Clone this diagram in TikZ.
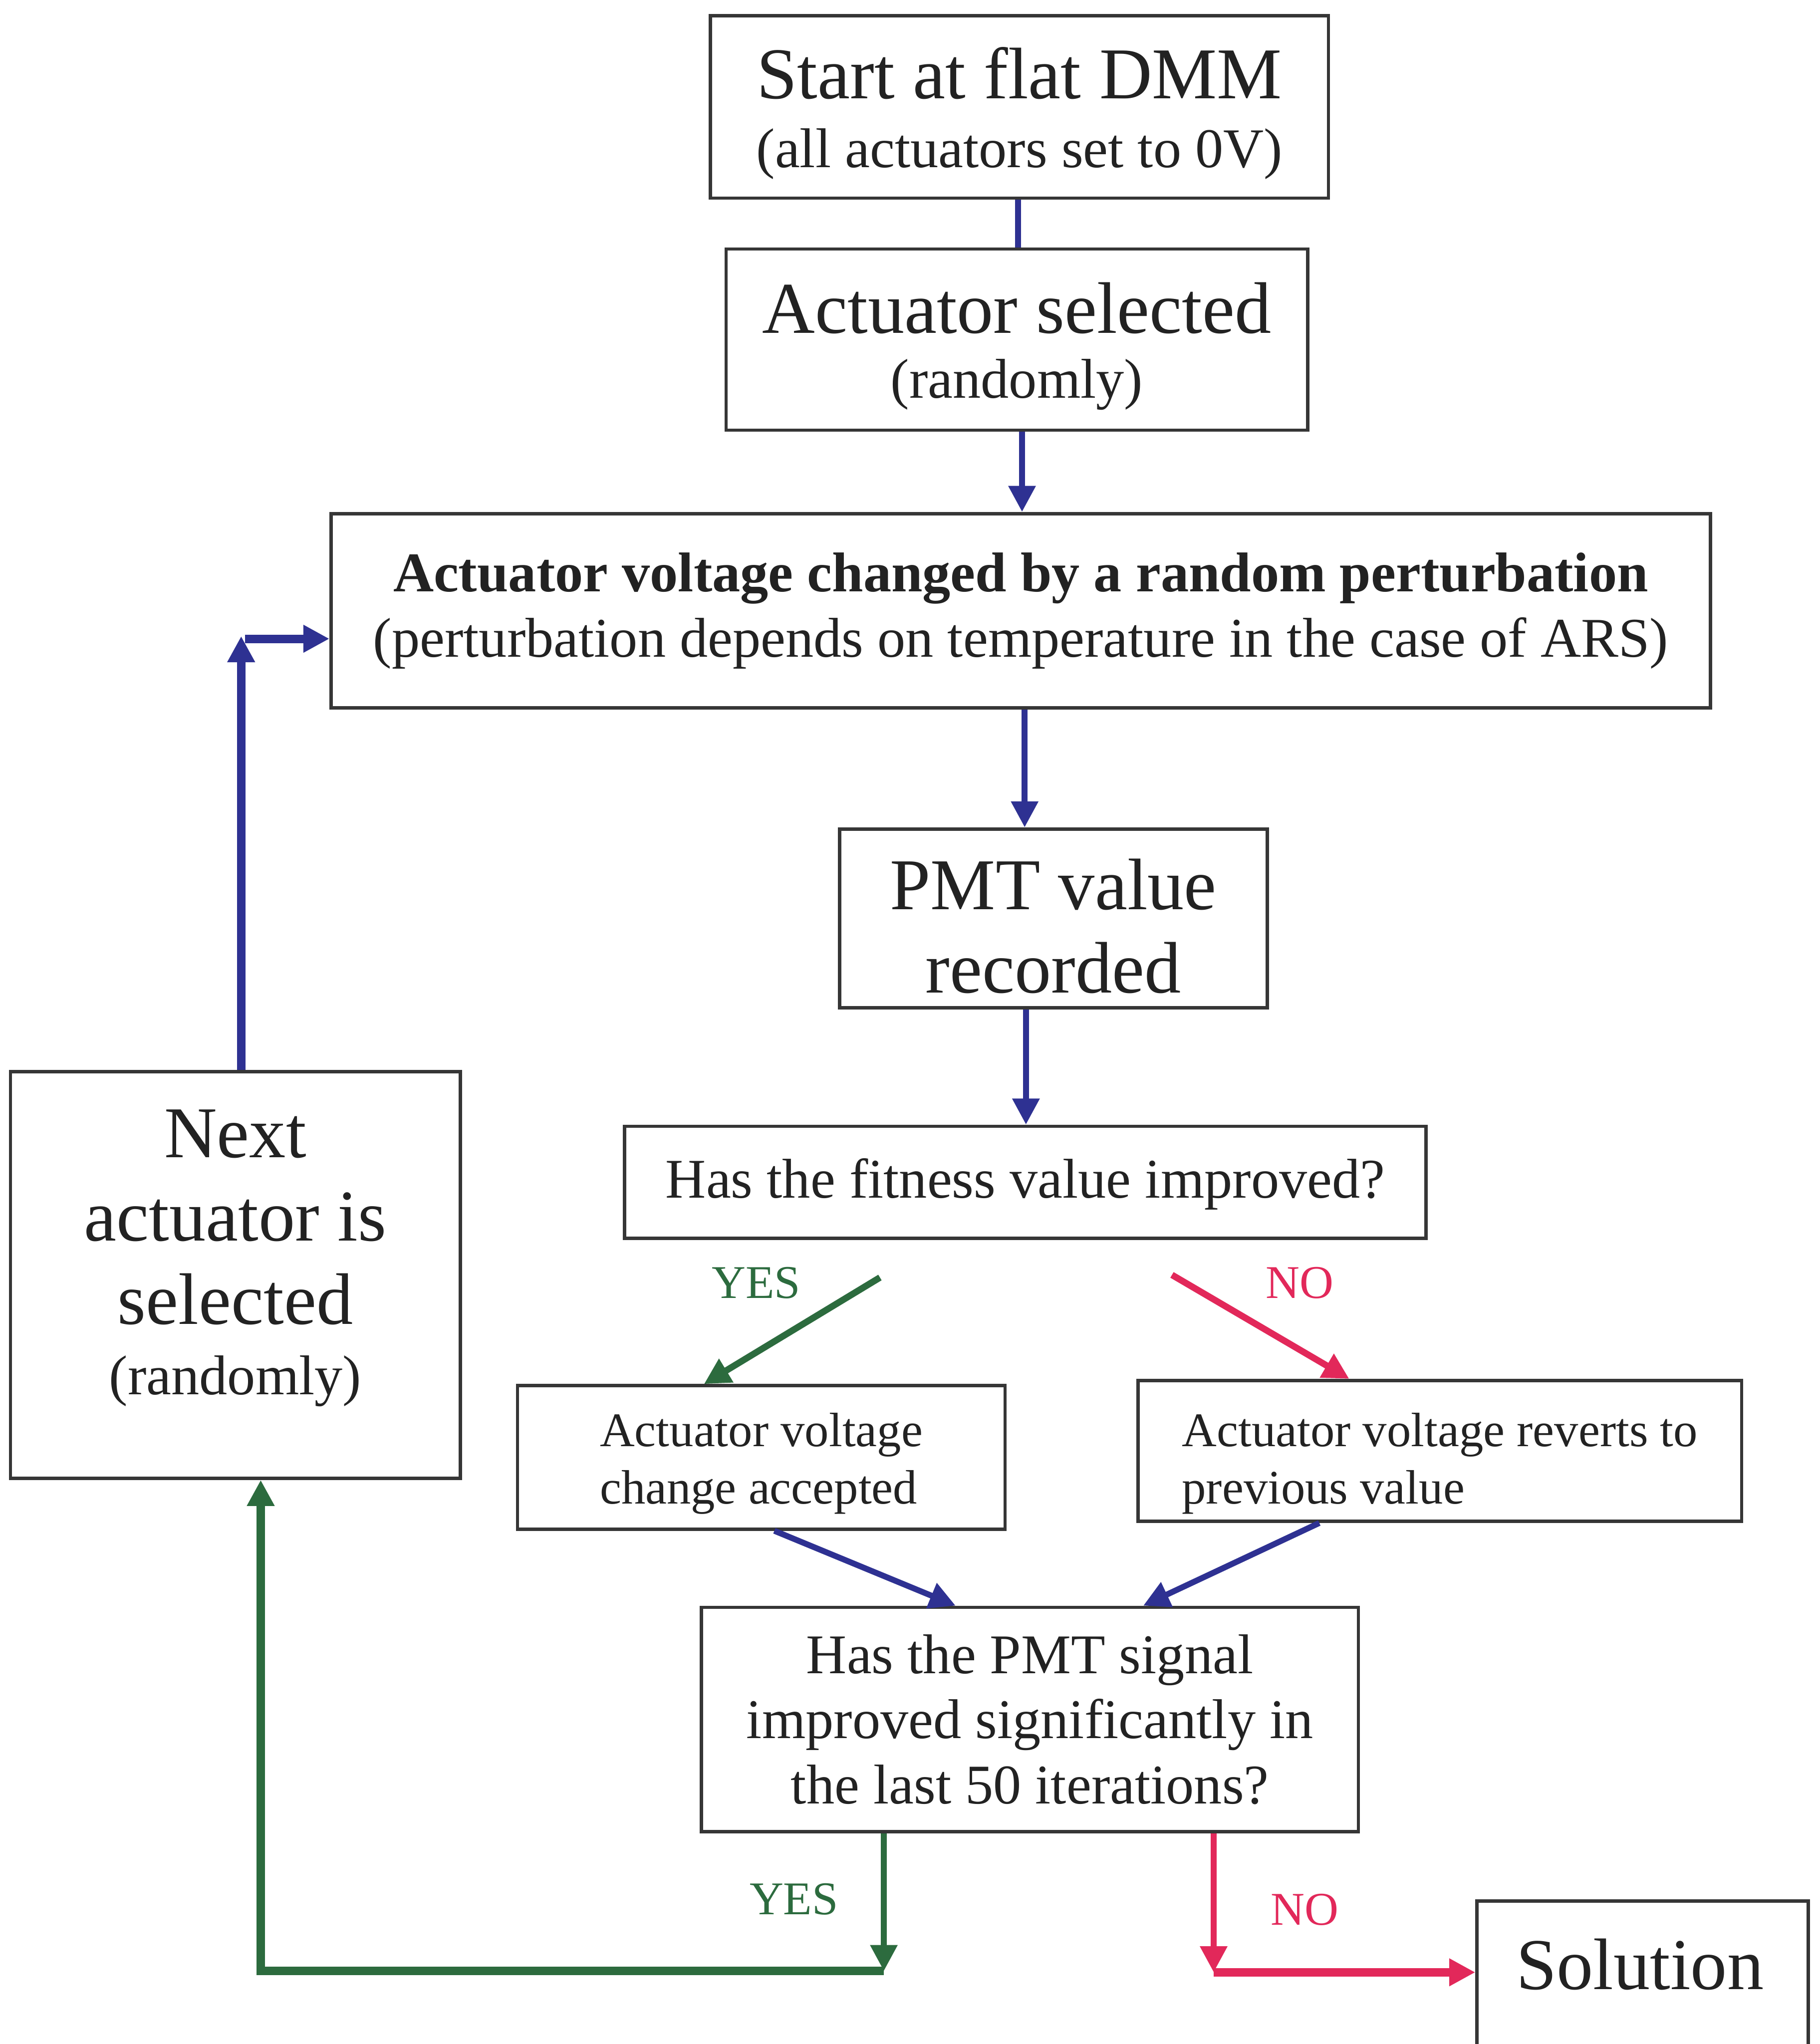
\documentclass[tikz,border=0pt]{standalone}
\usepackage{fontspec}
\setmainfont{Liberation Serif}
\usetikzlibrary{arrows.meta}

\definecolor{inkblue}{HTML}{2E3192}
\definecolor{inkgreen}{HTML}{2C6B3E}
\definecolor{inkred}{HTML}{E2285A}
\definecolor{inktext}{HTML}{222222}
\definecolor{boxline}{HTML}{363636}

\newcommand\fbig{\fontsize{56}{64}\selectfont}
\newcommand\fsmall{\fontsize{43}{50}\selectfont}
\newcommand\fmed{\fontsize{37}{44}\selectfont}
\newcommand\flab{\fontsize{36}{40}\selectfont}
% invisible struts that set the height of a first line / depth of a last line
\newcommand\tallline[1]{\rule{0pt}{#1}}
\newcommand\deepline[1]{\rule[-#1]{0pt}{#1}}

\begin{document}
\begin{tikzpicture}[x=1pt,y=-1pt,
  box/.style={draw=boxline, line width=2.6pt, fill=white, text=inktext,
    inner sep=0pt, align=center, font=\fsmall},
  tip/.style={-{Triangle[length=20pt,width=20pt]}},
  thin flow/.style={line width=4.5pt, tip},
  thick flow/.style={line width=6.5pt, tip},
  yeslab/.style={text=inkgreen, font=\flab, inner sep=0pt},
  nolab/.style={text=inkred, font=\flab, inner sep=0pt}]

\fill[white] (0,0) rectangle (1396,1568);
\useasboundingbox (0,0) rectangle (1396,1568);

% ---------- boxes ----------
\node[box, minimum width=474pt, minimum height=140pt] (start) at (782,82)
  {{\fbig\tallline{49pt}Start at flat DMM}\\[3pt](all actuators set to 0V)};
\node[box, minimum width=446pt, minimum height=139pt] (sel) at (780,260.5)
  {{\fbig\tallline{49pt}Actuator selected}\\(randomly)};
\node[box, minimum width=1058pt, minimum height=149pt] (pert) at (783,468.5)
  {{\bfseries Actuator voltage changed by a random perturbation}\\
   (perturbation depends on temperature in the case of ARS)};
\node[box, font=\fbig, minimum width=328pt, minimum height=137pt] (pmt) at (808,704.5)
  {\tallline{51pt}PMT value\\recorded};
\node[box, minimum width=615pt, minimum height=86pt] (fit) at (786.5,907)
  {\tallline{33pt}Has the fitness value improved?};
\node[box, font=\fmed, align=left, minimum width=374pt, minimum height=110pt] (acc) at (584,1118)
  {\tallline{35pt}Actuator voltage\\change accepted};
\node[box, font=\fmed, align=left, minimum width=463pt, minimum height=108pt] (rev) at (1104.5,1113)
  {\tallline{45pt}Actuator voltage reverts to\\previous value};
\node[box, minimum width=504pt, minimum height=172pt] (sig) at (790,1319)
  {Has the PMT signal\\improved significantly in\\the last 50 iterations?};
\node[box, font=\fbig, minimum width=345pt, minimum height=312pt] (next) at (180.5,978)
  {Next\\actuator is\\selected\\[-10pt]{\fsmall (randomly)\deepline{35pt}}};
\node[box, minimum width=254pt, minimum height=150pt, anchor=north] (sol) at (1260,1457) {};
\node[font=\fbig, text=inktext, inner sep=0pt] (soltext) at (1258,1507) {Solution};

% ---------- branch labels ----------
\node[yeslab] (yes1) at (580,984) {YES};
\node[nolab]  (no1)  at (997,984) {NO};
\node[yeslab] (yes2) at (609,1457) {YES};
\node[nolab]  (no2)  at (1001,1465) {NO};

% ---------- helper coordinates ----------
\coordinate (x781) at (781,0);
\coordinate (x784) at (784,0);
\coordinate (x786) at (786,0);
\coordinate (x787) at (787,0);
\coordinate (x540) at (540,0);
\coordinate (x1035) at (1035,0);
\coordinate (x594) at (594,0);
\coordinate (x733) at (733,0);
\coordinate (x1012) at (1012,0);
\coordinate (x877) at (877,0);
\coordinate (x678) at (678,0);
\coordinate (x931) at (931,0);
\coordinate (x200) at (200,0);
\coordinate (x185) at (185,0);
\coordinate (yesfrom) at (675,980);
\coordinate (nofrom) at (899,978);
\coordinate (yescorner) at (678,1512);
\coordinate (nocorner) at (931,1513);
\coordinate (leftcorner) at (200,1512);
\coordinate (loopcorner) at (185,488);
\coordinate (loopstart) at (188,490);

% ---------- main column ----------
\draw[inkblue, line width=4.5pt] (start.south -| x781) -- (sel.north -| x781);
\draw[inkblue, thin flow] (sel.south -| x784) -- (pert.north -| x784);
\draw[inkblue, thin flow] (pert.south -| x786) -- (pmt.north -| x786);
\draw[inkblue, thin flow] (pmt.south -| x787) -- (fit.north -| x787);

% ---------- fitness decision ----------
\draw[inkgreen, line width=5pt, tip] (yesfrom) -- (acc.north -| x540);
\draw[inkred, line width=5pt, tip] (nofrom) -- (rev.north -| x1035);
\draw[inkblue, thin flow] (acc.south -| x594) -- (sig.north -| x733);
\draw[inkblue, thin flow] (rev.south -| x1012) -- (sig.north -| x877);

% ---------- signal decision ----------
\draw[inkgreen, thin flow] (sig.south -| x678) -- (yescorner);
\draw[inkgreen, thick flow] (yescorner) -- (leftcorner) -- (next.south -| x200);
\draw[inkred, thin flow] (sig.south -| x931) -- (nocorner);
\draw[inkred, thick flow] (nocorner) -- (sol.west |- nocorner);

% ---------- loop back ----------
\draw[inkblue, thick flow] (next.north -| x185) -- (loopcorner);
\draw[inkblue, thick flow] (loopstart) -- (pert.west |- loopstart);

\end{tikzpicture}
\end{document}
